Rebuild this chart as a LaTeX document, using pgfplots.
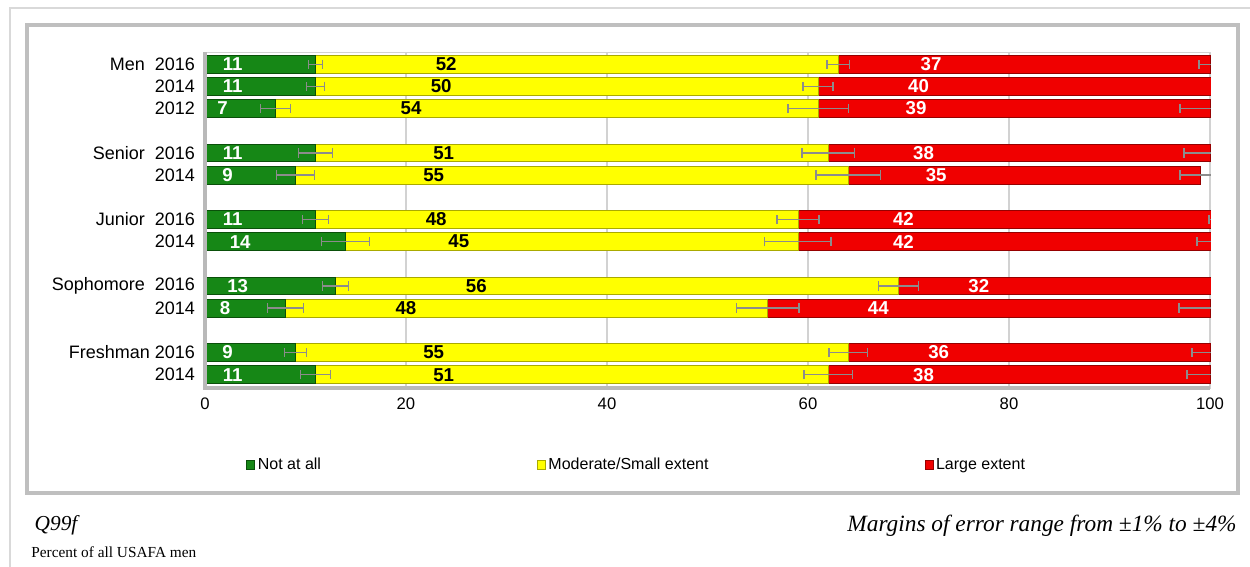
\documentclass[border=0pt]{standalone}
\usepackage{pgfplots}
\usepackage{pgfplotstable}
\pgfplotsset{compat=1.18}
\usepackage{fontspec}
\setmainfont{Liberation Sans}
\newfontfamily\serif{Liberation Serif}

\definecolor{gMid}{RGB}{22,135,22}
\definecolor{gBot}{RGB}{10,80,10}
\definecolor{yMid}{RGB}{255,255,0}
\definecolor{yBot}{RGB}{170,170,0}
\definecolor{rMid}{RGB}{240,0,0}
\definecolor{rBot}{RGB}{150,0,0}

% y = slot (0 = Men 2016), v = percent, e = margin of error
\pgfplotstableread{
y  v   e
0  11  0.7
1  11  0.9
2  7   1.5
4  11  1.7
5  9   1.9
7  11  1.3
8  14  2.4
10 13  1.3
11 8   1.8
13 9   1.1
14 11  1.5
}\notatall

\pgfplotstableread{
y  v   e
0  52  1.1
1  50  1.5
2  54  3.0
4  51  2.6
5  55  3.2
7  48  2.1
8  45  3.3
10 56  2.0
11 48  3.1
13 55  1.9
14 51  2.4
}\moderate

\pgfplotstableread{
y  v   e
0  37  1.1
1  40  0.5
2  39  3.0
4  38  2.6
5  35  2.0
7  42  1.1
8  42  2.3
10 32  0.8
11 44  3.1
13 36  1.8
14 38  2.3
}\large

\begin{document}
\begin{tikzpicture}
\useasboundingbox (0pt,0pt) rectangle (937.5pt,-425.25pt);
\draw[gray!30, line width=1.5pt] (7.5pt,-425.25pt) -- (7.5pt,-6pt) -- (937.5pt,-6pt);
\draw[gray!50, line width=2.5pt] (20.25pt,-18.75pt) rectangle (928.5pt,-369.75pt);

% rounded shares can add up to 101: the axis runs to 101 and the strip past 100 is masked
\begin{axis}[
  at={(153.75pt,-291pt)}, anchor=south west,
  scale only axis, width=761.29pt, height=252pt,
  xbar stacked, bar width=0.8,
  xmin=0, xmax=101, ymin=-0.55, ymax=14.6, y dir=reverse,
  xtick={0,20,...,100},
  ytick={0,1,2,4,5,7,8,10,11,13,14},
  yticklabels={Men\ \ 2016,2014,2012,Senior\ \ 2016,2014,Junior\ \ 2016,2014,Sophomore\ \ 2016,2014,Freshman 2016,2014},
  xmajorgrids, grid style={gray!35, line width=0.8pt},
  axis line style={gray!35},
  tick style={draw=none},
  xticklabel style={font=\fontsize{12.5}{14}\selectfont, yshift=-4pt},
  yticklabel style={font=\fontsize{13.5}{15}\selectfont, xshift=-4pt},
  /pgf/number format/assume math mode=true,
  point meta=explicit,
  nodes near coords={\pgfmathprintnumber{\pgfplotspointmeta}},
  visualization depends on={\thisrow{v} \as \rawx},
  every node near coord/.append style={anchor=center, font=\fontsize{14}{15}\selectfont\bfseries, shift={(axis direction cs:-\rawx/4,0)}},
  error bars/x dir=both, error bars/x explicit,
  error bars/error mark=|,
  error bars/error bar style={gray!90, line width=1pt},
  error bars/error mark options={gray!90, line width=1pt, mark size=3.5pt},
  legend style={at={(axis description cs:0.0366,-0.229)}, anchor=west, draw=none, fill=none,
    font=\fontsize{12}{14}\selectfont, legend columns=3,
    /tikz/every even column/.append style={column sep=160pt}},
  legend image code/.code={\path[#1] (0pt,-3.5pt) rectangle (6pt,3.5pt);},
  after end axis/.code={
    \fill[white] ([xshift=0.45pt]axis cs:100,-0.7) rectangle ([xshift=2pt]axis cs:101,14.7);
    \draw[gray!55, line width=2.5pt] (axis cs:0,-0.55) -- (axis cs:0,14.6) -- (axis cs:100,14.6);
  },
]
\addplot[fill=gMid, draw=gBot, line width=0.6pt,
  every node near coord/.append style={text=white}]
  table[x=v, y=y, meta=v, x error=e] {\notatall};
\addplot[fill=yMid, draw=yBot, line width=0.6pt,
  every node near coord/.append style={text=black}]
  table[x=v, y=y, meta=v, x error=e] {\moderate};
\addplot[fill=rMid, draw=rBot, line width=0.6pt,
  every node near coord/.append style={text=white}]
  table[x=v, y=y, meta=v, x error=e] {\large};
\legend{Not at all, Moderate/Small extent, Large extent}
\end{axis}

\node[anchor=west, font=\serif\itshape\fontsize{16}{18}\selectfont] at (22.5pt,-394pt) {Q99f};
\node[anchor=east, font=\serif\itshape\fontsize{17.5}{19}\selectfont] at (931pt,-394pt) {Margins of error range from ±1\% to ±4\%};
\node[anchor=west, font=\serif\fontsize{11.5}{13}\selectfont] at (20pt,-414pt) {Percent of all USAFA men};
\end{tikzpicture}
\end{document}
